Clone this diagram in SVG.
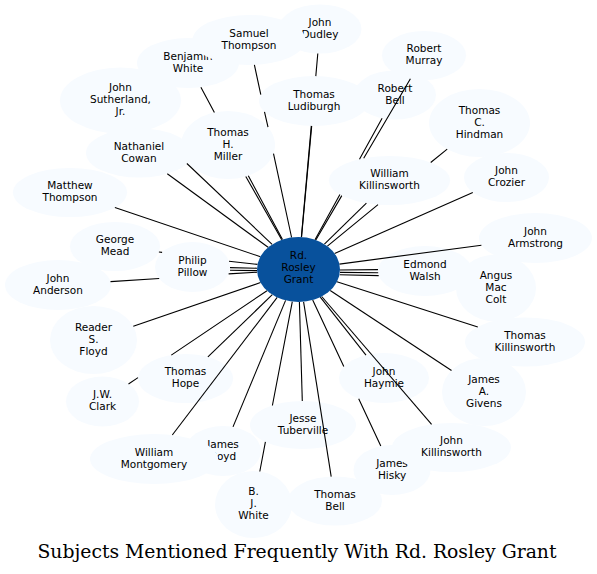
<svg xmlns="http://www.w3.org/2000/svg" width="597" height="574" viewBox="0 0 597 574">
<style>
.n ellipse{fill:#f7fbff;stroke:none}
.c ellipse{fill:#08519c;stroke:none}
text{font-family:"DejaVu Sans","Liberation Sans",sans-serif;font-size:10.5px;text-anchor:middle;fill:#000}
.e path{stroke:#000;stroke-width:1.1;fill:none}
.title{font-family:"DejaVu Serif","Liberation Serif",serif;font-size:18.8px}
</style>
<rect width="597" height="574" fill="#fff"/>
<g id="nodes">
<g id="john_dudley" class="n"><ellipse cx="320" cy="29" rx="41.5" ry="24.5"/><text x="320" y="25.5">John</text><text x="320" y="37.5">Dudley</text></g>
<g id="benjamin_white" class="n"><ellipse cx="188" cy="63" rx="51" ry="25"/><text x="188" y="59.5">Benjamin</text><text x="188" y="71.5">White</text></g>
<g id="samuel_thompson" class="n"><ellipse cx="249" cy="40" rx="56.5" ry="25"/><text x="249" y="36.5">Samuel</text><text x="249" y="48.5">Thompson</text></g>
<g id="thomas_ludiburgh" class="n"><ellipse cx="314" cy="101" rx="55" ry="25"/><text x="314" y="97.5">Thomas</text><text x="314" y="109.5">Ludiburgh</text></g>
<g id="robert_bell" class="n"><ellipse cx="395" cy="95" rx="41" ry="24.5"/><text x="395" y="91.5">Robert</text><text x="395" y="103.5">Bell</text></g>
<g id="robert_murray" class="n"><ellipse cx="424" cy="55.5" rx="42" ry="24.5"/><text x="424" y="52">Robert</text><text x="424" y="64">Murray</text></g>
<g id="thomas_c_hindman" class="n"><ellipse cx="479.5" cy="123" rx="50.5" ry="34"/><text x="479.5" y="113.5">Thomas</text><text x="479.5" y="125.5">C.</text><text x="479.5" y="137.5">Hindman</text></g>
<g id="william_killinsworth" class="n"><ellipse cx="389.5" cy="180.5" rx="60.5" ry="24.5"/><text x="389.5" y="177">William</text><text x="389.5" y="189">Killinsworth</text></g>
<g id="john_crozier" class="n"><ellipse cx="506.5" cy="177.5" rx="42.5" ry="24.5"/><text x="506.5" y="174">John</text><text x="506.5" y="186">Crozier</text></g>
<g id="john_sutherland_jr" class="n"><ellipse cx="120.5" cy="100.5" rx="60.5" ry="33"/><text x="120.5" y="91">John</text><text x="120.5" y="103">Sutherland,</text><text x="120.5" y="115">Jr.</text></g>
<g id="nathaniel_cowan" class="n"><ellipse cx="139" cy="153" rx="53" ry="24.5"/><text x="139" y="149.5">Nathaniel</text><text x="139" y="161.5">Cowan</text></g>
<g id="thomas_h_miller" class="n"><ellipse cx="228" cy="145" rx="47" ry="34"/><text x="228" y="135.5">Thomas</text><text x="228" y="147.5">H.</text><text x="228" y="159.5">Miller</text></g>
<g id="matthew_thompson" class="n"><ellipse cx="70" cy="192.5" rx="57" ry="24.5"/><text x="70" y="189">Matthew</text><text x="70" y="201">Thompson</text></g>
<g id="george_mead" class="n"><ellipse cx="115" cy="246.5" rx="45" ry="24.5"/><text x="115" y="243">George</text><text x="115" y="255">Mead</text></g>
<g id="philip_pillow" class="n"><ellipse cx="192.5" cy="267" rx="37.5" ry="25"/><text x="192.5" y="263.5">Philip</text><text x="192.5" y="275.5">Pillow</text></g>
<g id="john_anderson" class="n"><ellipse cx="58" cy="285" rx="53" ry="25"/><text x="58" y="281.5">John</text><text x="58" y="293.5">Anderson</text></g>
<g id="reader_s_floyd" class="n"><ellipse cx="93.5" cy="340" rx="43.5" ry="34"/><text x="93.5" y="330.5">Reader</text><text x="93.5" y="342.5">S.</text><text x="93.5" y="354.5">Floyd</text></g>
<g id="thomas_hope" class="n"><ellipse cx="185.5" cy="378.5" rx="47.5" ry="24.5"/><text x="185.5" y="375">Thomas</text><text x="185.5" y="387">Hope</text></g>
<g id="jw_clark" class="n"><ellipse cx="102.5" cy="401.5" rx="36.5" ry="25"/><text x="102.5" y="398">J.W.</text><text x="102.5" y="410">Clark</text></g>
<g id="james_boyd" class="n"><ellipse cx="223" cy="451" rx="38" ry="25"/><text x="223" y="447.5">James</text><text x="223" y="459.5">Boyd</text></g>
<g id="william_montgomery" class="n"><ellipse cx="154" cy="459" rx="64" ry="25"/><text x="154" y="455.5">William</text><text x="154" y="467.5">Montgomery</text></g>
<g id="bj_white" class="n"><ellipse cx="253.5" cy="504.5" rx="38.5" ry="33.5"/><text x="253.5" y="495">B.</text><text x="253.5" y="507">J.</text><text x="253.5" y="519">White</text></g>
<g id="jesse_tuberville" class="n"><ellipse cx="303" cy="425" rx="53" ry="24"/><text x="303" y="421.5">Jesse</text><text x="303" y="433.5">Tuberville</text></g>
<g id="thomas_bell" class="n"><ellipse cx="335" cy="501" rx="47" ry="24.5"/><text x="335" y="497.5">Thomas</text><text x="335" y="509.5">Bell</text></g>
<g id="john_haymie" class="n"><ellipse cx="384" cy="378" rx="45" ry="25"/><text x="384" y="374.5">John</text><text x="384" y="386.5">Haymie</text></g>
<g id="james_hisky" class="n"><ellipse cx="392" cy="470" rx="38.5" ry="25"/><text x="392" y="466.5">James</text><text x="392" y="478.5">Hisky</text></g>
<g id="john_killinsworth" class="n"><ellipse cx="451.5" cy="447.5" rx="59.5" ry="24.5"/><text x="451.5" y="444">John</text><text x="451.5" y="456">Killinsworth</text></g>
<g id="james_a_givens" class="n"><ellipse cx="484" cy="392" rx="42" ry="34"/><text x="484" y="382.5">James</text><text x="484" y="394.5">A.</text><text x="484" y="406.5">Givens</text></g>
<g id="thomas_killinsworth" class="n"><ellipse cx="525" cy="342" rx="60" ry="24.5"/><text x="525" y="338.5">Thomas</text><text x="525" y="350.5">Killinsworth</text></g>
<g id="angus_mac_colt" class="n"><ellipse cx="496" cy="288" rx="40" ry="33.5"/><text x="496" y="278.5">Angus</text><text x="496" y="290.5">Mac</text><text x="496" y="302.5">Colt</text></g>
<g id="edmond_walsh" class="n"><ellipse cx="425" cy="271" rx="47" ry="25"/><text x="425" y="267.5">Edmond</text><text x="425" y="279.5">Walsh</text></g>
<g id="john_armstrong" class="n"><ellipse cx="535.5" cy="238" rx="56.5" ry="25"/><text x="535.5" y="234.5">John</text><text x="535.5" y="246.5">Armstrong</text></g>
</g>
<g id="connectors" class="e">
<path d="M254.4,64.9 L260.8,94.6 M264.5,111.8 L268,127.2 M273.5,153.6 L291.6,237.5"/>
<path d="M317.8,53.5 L315.8,76.1 M311.3,125.9 L301.4,237.1"/>
<path d="M311.7,126 L301.5,237.1"/>
<path d="M200.9,87.2 L214.4,112.5 M248.3,175.7 L282.5,239.5"/>
<path d="M245.8,176.5 L281.7,239.8"/>
<path d="M186.9,163.5 L272.1,244.4"/>
<path d="M167.3,173.7 L268.1,247.3"/>
<path d="M114.9,207.6 L260.4,256.7"/>
<path d="M158.9,252 L162.1,252.4 M229,261.2 L257.5,264.4"/>
<path d="M230,267.6 L257,268.2"/>
<path d="M230,270.2 L257.1,270.6"/>
<path d="M110.5,281.6 L159.2,278.5 M228.6,273.9 L257.1,272.2"/>
<path d="M133.3,326.3 L260.5,282.6"/>
<path d="M128.5,384 L138,377.6 M171.3,355.1 L267,290.7"/>
<path d="M207.9,356.9 L272.3,294.7"/>
<path d="M172.3,435 L277.2,297.4"/>
<path d="M233,426.9 L285.6,300.4"/>
<path d="M259.8,471.5 L265.4,441.8 M272.4,405.5 L292.3,301.6"/>
<path d="M302.3,401 L299.4,302"/>
<path d="M331.2,476.6 L303.6,301.8"/>
<path d="M366,355.1 L320.3,297.2"/>
<path d="M380.8,446.1 L358.7,398.7 M343.8,366.6 L312.7,300"/>
<path d="M431.6,424.4 L321.7,296.5"/>
<path d="M451.5,370.5 L330.2,290.5"/>
<path d="M477.8,326.9 L336.9,281.8"/>
<path d="M378.7,275.6 L339.7,274.8"/>
<path d="M378,269.6 L340,270"/>
<path d="M378.2,272.8 L340,272.4"/>
<path d="M481.4,245.2 L339.4,264.1"/>
<path d="M472.8,192.4 L334.6,253.5"/>
<path d="M447.2,149.1 L430.7,162.5 M378,204.6 L327.4,246.1"/>
<path d="M366.4,203.1 L324.4,244.1"/>
<path d="M382.1,118.3 L359.5,159.2 M339.9,194.5 L315,239.7"/>
<path d="M410.4,78.7 L363.7,158.3 M341.8,195.6 L315.8,240"/>
</g>
<g id="rd_rosley_grant" class="c"><ellipse cx="298.5" cy="269.5" rx="41.5" ry="32.5"/><text x="298.5" y="258.5">Rd.</text><text x="298.5" y="270.5">Rosley</text><text x="298.5" y="282.5">Grant</text></g>
<text class="title" x="297" y="558">Subjects Mentioned Frequently With Rd. Rosley Grant</text>
</svg>
